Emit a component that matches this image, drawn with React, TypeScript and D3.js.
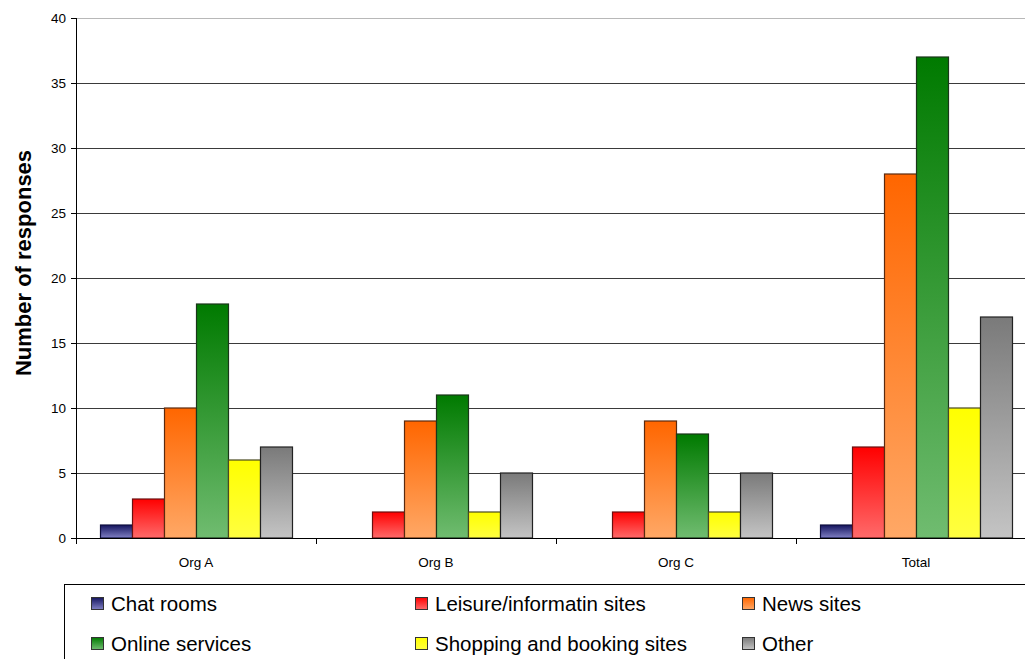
import React from "react";
import * as d3 from "d3";

// Survey responses by organisation and type of site
const categories = ["Org A", "Org B", "Org C", "Total"];
const seriesNames = [
  "Chat rooms",
  "Leisure/informatin sites",
  "News sites",
  "Online services",
  "Shopping and booking sites",
  "Other",
];
const chatRooms = [1, 0, 0, 1];
const leisureSites = [3, 2, 2, 7];
const newsSites = [10, 9, 9, 28];
const onlineServices = [18, 11, 8, 37];
const shoppingSites = [6, 2, 2, 10];
const otherSites = [7, 5, 5, 17];
const yTicks = [0, 5, 10, 15, 20, 25, 30, 35, 40];

const seriesValues = [chatRooms, leisureSites, newsSites, onlineServices, shoppingSites, otherSites];

// gradient stops (top, bottom) and outline for each series
const palette = [
  { top: "#14145e", bottom: "#8080c4", stroke: "#101040" },
  { top: "#ff0000", bottom: "#ff6a6a", stroke: "#6a1010" },
  { top: "#ff6600", bottom: "#ffa866", stroke: "#5a2a10" },
  { top: "#007a00", bottom: "#70bc70", stroke: "#1a361a" },
  { top: "#ffff00", bottom: "#ffff40", stroke: "#4a4a20" },
  { top: "#7a7a7a", bottom: "#c4c4c4", stroke: "#222222" },
];

const W = 1025;
const H = 659;
const FONT = "'Liberation Sans', Arial, Helvetica, sans-serif";

export default function App() {
  const x0 = d3.scaleBand<string>().domain(categories).range([76, 1036]).paddingInner(0).paddingOuter(0);
  const x1 = d3
    .scaleBand<string>()
    .domain(seriesNames)
    .range([0, x0.bandwidth()])
    .paddingInner(0)
    .paddingOuter(0.75);
  const y = d3.scaleLinear().domain([0, 40]).range([538, 18]);

  const legendCols = [91, 415, 742];
  const legendRows = [604, 644];

  return (
    <svg
      width={W}
      height={H}
      viewBox={`0 0 ${W} ${H}`}
      style={{ position: "absolute", left: 0, top: 0, display: "block", background: "#fff" }}
    >
      <defs>
        {palette.map((p, i) => (
          <linearGradient key={i} id={`grad${i}`} x1="0" y1="0" x2="0" y2="1">
            <stop offset="0%" stopColor={p.top} />
            <stop offset="100%" stopColor={p.bottom} />
          </linearGradient>
        ))}
      </defs>

      {/* gridlines */}
      {yTicks
        .filter((t) => t > 0)
        .map((t) => (
          <line
            key={t}
            x1={76}
            x2={W}
            y1={Math.round(y(t)) + 0.5}
            y2={Math.round(y(t)) + 0.5}
            stroke={t === 40 ? "#b8b8b8" : "#3a3a3a"}
            strokeWidth={1}
          />
        ))}

      {/* bars */}
      {categories.map((c, ci) => (
        <g key={c} transform={`translate(${x0(c)},0)`}>
          {seriesNames.map((s, si) => {
            const v = seriesValues[si][ci];
            if (v <= 0) return null;
            const bx = x1(s)!;
            return (
              <rect
                key={s}
                x={bx + 0.5}
                y={y(v)}
                width={x1.bandwidth()}
                height={y(0) - y(v)}
                fill={`url(#grad${si})`}
                stroke={palette[si].stroke}
                strokeWidth={1.2}
              />
            );
          })}
        </g>
      ))}

      {/* y axis */}
      <line x1={76.5} x2={76.5} y1={18} y2={539} stroke="#000" strokeWidth={1} />
      {yTicks.map((t) => (
        <g key={t}>
          <line x1={71} x2={76} y1={Math.round(y(t)) + 0.5} y2={Math.round(y(t)) + 0.5} stroke="#000" />
          <text
            x={66}
            y={y(t)}
            dy="0.35em"
            textAnchor="end"
            fontFamily={FONT}
            fontSize={13.5}
            fill="#000"
          >
            {t}
          </text>
        </g>
      ))}

      {/* x axis */}
      <line x1={76} x2={W} y1={538.5} y2={538.5} stroke="#000" strokeWidth={1} />
      {categories.map((c) => (
        <g key={c}>
          <line
            x1={Math.round(x0(c)!) + 0.5}
            x2={Math.round(x0(c)!) + 0.5}
            y1={538}
            y2={544}
            stroke="#000"
          />
          <text
            x={x0(c)! + x0.bandwidth() / 2}
            y={567}
            textAnchor="middle"
            fontFamily={FONT}
            fontSize={13.5}
            fill="#000"
          >
            {c}
          </text>
        </g>
      ))}

      {/* y axis title */}
      <text
        transform="translate(31,263) rotate(-90)"
        textAnchor="middle"
        fontFamily={FONT}
        fontSize={22}
        fontWeight="bold"
        fill="#000"
      >
        Number of responses
      </text>

      {/* legend */}
      <rect x={64.5} y={584.5} width={1000} height={200} fill="none" stroke="#000" strokeWidth={1} />
      {seriesNames.map((s, i) => {
        const cx = legendCols[i % 3];
        const cy = legendRows[Math.floor(i / 3)];
        return (
          <g key={s}>
            <rect
              x={cx + 0.5}
              y={cy - 6.5}
              width={12}
              height={12}
              fill={`url(#grad${i})`}
              stroke="#333"
              strokeWidth={1}
            />
            <text x={cx + 20} y={cy} dy="0.35em" fontFamily={FONT} fontSize={20.5} fill="#000">
              {s}
            </text>
          </g>
        );
      })}
    </svg>
  );
}
